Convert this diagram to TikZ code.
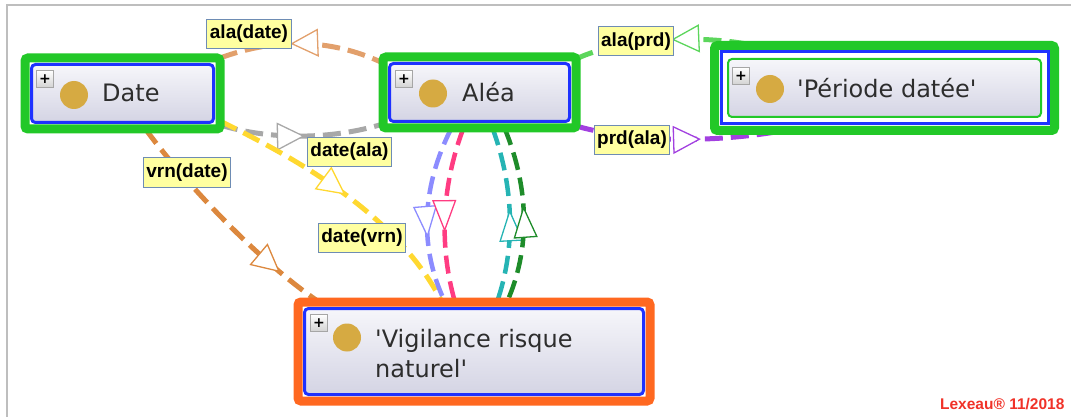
\documentclass[tikz,border=0pt]{standalone}
\usepackage{fontspec}
\setmainfont{DejaVu Sans}
\newfontfamily\tagfont{Liberation Sans}
\usepackage{tikz}
\usetikzlibrary{positioning,fit,arrows.meta,decorations.markings,backgrounds}
\definecolor{framegreen}{RGB}{34,200,40}
\definecolor{frameorange}{RGB}{255,104,32}
\definecolor{boxblue}{RGB}{30,50,255}
\definecolor{boxtop}{RGB}{246,246,250}
\definecolor{boxbottom}{RGB}{212,212,228}
\definecolor{dotgold}{RGB}{214,170,66}
\definecolor{textgray}{RGB}{45,45,45}
\definecolor{tagfill}{RGB}{255,255,160}
\definecolor{tagborder}{RGB}{110,140,180}
\definecolor{windowgray}{RGB}{190,190,190}
\definecolor{lexred}{RGB}{240,50,40}
\definecolor{tanline}{RGB}{226,160,108}
\definecolor{grayline}{RGB}{168,168,168}
\definecolor{orangeline}{RGB}{220,136,62}
\definecolor{yellowline}{RGB}{255,216,48}
\definecolor{lavline}{RGB}{140,140,255}
\definecolor{pinkline}{RGB}{255,60,130}
\definecolor{tealline}{RGB}{38,180,180}
\definecolor{darkgreenline}{RGB}{30,140,42}
\definecolor{lightgreenline}{RGB}{92,214,92}
\definecolor{purpleline}{RGB}{162,64,224}
\tikzset{
  tipfwd/.style={postaction={decorate, decoration={markings, mark=at position #1 with {\arrow{Triangle[length=28pt, width=28pt, line width=1.3pt, fill=white]}}}}},
  tipback/.style={postaction={decorate, decoration={markings, mark=at position #1 with {\arrowreversed{Triangle[length=28pt, width=28pt, line width=1.3pt, fill=white]}}}}},
  slimfwd/.style={postaction={decorate, decoration={markings, mark=at position #1 with {\arrow{Triangle[length=32pt, width=24pt, line width=1.3pt, fill=white]}}}}},
  slimback/.style={postaction={decorate, decoration={markings, mark=at position #1 with {\arrowreversed{Triangle[length=32pt, width=24pt, line width=1.3pt, fill=white]}}}}}
}

\begin{document}
\begin{tikzpicture}[x=1pt, y=-1pt, every node/.style={font=\fontsize{24}{30}\selectfont}]
\tikzstyle{entity}=[rectangle, draw=boxblue, line width=3pt, rounded corners=4pt, top color=boxtop, bottom color=boxbottom, inner sep=0pt, outer sep=0pt]
\tikzstyle{outline}=[rectangle, draw=framegreen, line width=9pt, rounded corners=3pt, inner sep=6.5pt, outer sep=0pt]
\tikzstyle{entname}=[anchor=base west, inner sep=0pt, text=textgray, align=left]
\tikzstyle{bullet}=[circle, fill=dotgold, minimum size=28pt, inner sep=0pt]
\tikzstyle{plusicon}=[rectangle, draw=gray!70, line width=0.8pt, top color=white, bottom color=gray!35, minimum size=17pt, inner sep=0pt, font=\bfseries\fontsize{14}{14}\selectfont]
\tikzstyle{roletag}=[rectangle, draw=tagborder, fill=tagfill, line width=1pt, inner sep=3pt, minimum height=29pt, font=\tagfont\bfseries\fontsize{19}{19}\selectfont]
\tikzstyle{relline}=[line width=5pt, dash pattern=on 18pt off 8pt]
\useasboundingbox (0,0) rectangle (1071,417);
\draw[windowgray, line width=2pt] (7,417) -- (7,5) -- (1071,5);

% classes
\node[entity, minimum width=182pt, minimum height=58pt] (date) at (122.5,93.5) {};
\node[outline, fit=(date)] (dateframe) {};
\node[plusicon] (dateplus) at (45,79) {+};
\node[bullet] (datedot) at (74,95) {};
\node[entname] (datetext) at (102,102) {Date};

\node[entity, minimum width=180pt, minimum height=58pt] (alea) at (479.5,92.5) {};
\node[outline, fit=(alea)] (aleaframe) {};
\node[plusicon] (aleaplus) at (404,79) {+};
\node[bullet] (aleadot) at (433,93.5) {};
\node[entname] (aleatext) at (462,102) {Aléa};

\node[entity, draw=framegreen, line width=2pt, minimum width=313pt, minimum height=58pt] (periode) at (884.5,88) {};
\node[rectangle, draw=boxblue, line width=3pt, fit=(periode), inner sep=7pt, outer sep=0pt] (periodeblue) {};
\node[outline, fit=(periodeblue)] (periodeframe) {};
\node[plusicon] (periodeplus) at (741,76) {+};
\node[bullet] (periodedot) at (770,89) {};
\node[entname] (periodetext) at (797,98) {\textquotesingle Période datée\textquotesingle};

\node[entity, minimum width=339pt, minimum height=86pt] (vigilance) at (474,351.5) {};
\node[outline, draw=frameorange, fit=(vigilance)] (vigilanceframe) {};
\node[plusicon] (vigilanceplus) at (319,323) {+};
\node[bullet] (vigilancedot) at (347,337.5) {};
\node[entname] (vigilancetext) at (375,377) {\textquotesingle Vigilance risque\\naturel\textquotesingle};

% roles
\begin{scope}[on background layer]
\draw[relline, tanline, tipback=0.43] (dateframe.north east) .. controls (275,38) and (330,38) .. ([yshift=-6pt]aleaframe.north west);
\draw[relline, grayline, tipfwd=0.52] ([yshift=4pt]dateframe.south east) .. controls (270,140) and (330,140) .. ([yshift=4pt]aleaframe.south west);
\draw[relline, orangeline, tipfwd=0.8] ([xshift=23pt]dateframe.south) .. controls (175,170) and (250,255) .. ([xshift=-155pt]vigilanceframe.north);
\draw[relline, yellowline, tipfwd=0.5] ([yshift=8pt]dateframe.south east) .. controls (310,165) and (400,220) .. ([xshift=-32pt]vigilanceframe.north);
\draw[relline, lavline, line width=4.5pt, slimfwd=0.63] ([xshift=-28pt]aleaframe.south) .. controls (420,190) and (420,250) .. ([xshift=-29pt]vigilanceframe.north);
\draw[relline, pinkline, line width=4.5pt, slimfwd=0.6] ([xshift=-16pt]aleaframe.south) .. controls (440,190) and (440,250) .. ([xshift=-19pt]vigilanceframe.north);
\draw[relline, tealline, line width=4.5pt, slimback=0.47] ([xshift=13pt]aleaframe.south) .. controls (515,190) and (515,250) .. ([xshift=23pt]vigilanceframe.north);
\draw[relline, darkgreenline, line width=4.5pt, slimback=0.45] ([xshift=25pt]aleaframe.south) .. controls (530,190) and (530,250) .. ([xshift=33pt]vigilanceframe.north);
\draw[relline, lightgreenline, tipback=0.54] ([yshift=-2pt]aleaframe.north east) .. controls (620,38) and (700,34) .. ([xshift=40pt]periodeframe.north west);
\draw[relline, purpleline, tipfwd=0.6] ([yshift=2pt]aleaframe.south east) .. controls (640,144) and (720,142) .. ([xshift=70pt]periodeframe.south west);
\end{scope}

\node[roletag] (aladate) at (249,34) {ala(date)};
\node[roletag] (dateala) at (349.5,152) {date(ala)};
\node[roletag] (vrndate) at (187,172.5) {vrn(date)};
\node[roletag] (datevrn) at (362,238) {date(vrn)};
\node[roletag] (alaprd) at (636,41.5) {ala(prd)};
\node[roletag] (prdala) at (632,140) {prd(ala)};

\node[anchor=base east, text=lexred, font=\tagfont\bfseries\fontsize{15.5}{16}\selectfont] (credit) at (1068,409) {Lexeau® 11/2018};
\end{tikzpicture}
\end{document}
